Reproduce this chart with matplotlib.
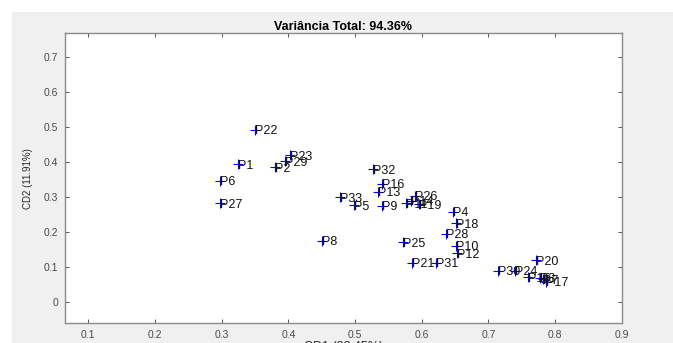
import matplotlib
matplotlib.use("Agg")
import matplotlib.pyplot as plt
from matplotlib.patches import Rectangle

# --- data ---
labels = ["P1", "P2", "P3", "P4", "P5", "P6", "P7", "P8", "P9", "P10",
          "P11", "P12", "P13", "P14", "P15", "P16", "P17", "P18", "P19", "P20",
          "P21", "P22", "P23", "P24", "P25", "P26", "P27", "P28", "P29", "P30",
          "P31", "P32", "P33"]
cd1 = [0.324, 0.380, 0.778, 0.647, 0.498, 0.297, 0.782, 0.451, 0.540, 0.651,
       0.577, 0.653, 0.534, 0.584, 0.759, 0.540, 0.787, 0.652, 0.596, 0.771,
       0.585, 0.350, 0.402, 0.740, 0.572, 0.590, 0.298, 0.637, 0.395, 0.714,
       0.621, 0.527, 0.477]
cd2 = [0.394, 0.385, 0.069, 0.258, 0.277, 0.347, 0.064, 0.175, 0.275, 0.160,
       0.282, 0.139, 0.315, 0.289, 0.070, 0.338, 0.057, 0.225, 0.279, 0.119,
       0.112, 0.492, 0.420, 0.089, 0.170, 0.303, 0.282, 0.194, 0.403, 0.089,
       0.112, 0.379, 0.299]

title = "Variância Total: 94.36%"
xlab = "CD1 (82.45%)"
ylab = "CD2 (11.91%)"

plt.rcParams["font.family"] = ["Liberation Sans", "DejaVu Sans"]

fig = plt.figure(figsize=(6.73, 3.43), dpi=100)
fig.patch.set_facecolor("white")
# grey figure panel (like the MATLAB window background), kept behind the axes
bg = Rectangle((12 / 673, 0), 1, 1 - 12 / 343, transform=fig.transFigure,
               color="#f0f0f0", zorder=-10)
fig.add_artist(bg)

ax = fig.add_axes([65 / 673, 1 - 323.3 / 343, (621.7 - 65) / 673, (323.3 - 33) / 343])
ax.set_zorder(1)
ax.set_facecolor("white")

ax.plot(cd1, cd2, "b+", markersize=7, markeredgewidth=0.8, linestyle="none")
for lab, x, y in zip(labels, cd1, cd2):
    ax.text(x, y, lab, fontsize=9, color="#111111", ha="left", va="center_baseline")

ax.set_xlim(0.065, 0.9)
ax.set_ylim(-0.062, 0.77)
ax.set_xticks([0.1, 0.2, 0.3, 0.4, 0.5, 0.6, 0.7, 0.8, 0.9])
ax.set_xticklabels(["0.1", "0.2", "0.3", "0.4", "0.5", "0.6", "0.7", "0.8", "0.9"])
ax.set_yticks([0, 0.1, 0.2, 0.3, 0.4, 0.5, 0.6, 0.7])
ax.set_yticklabels(["0", "0.1", "0.2", "0.3", "0.4", "0.5", "0.6", "0.7"])

ax.tick_params(direction="in", length=3, width=0.7, colors="#555555",
               labelsize=7.5, labelcolor="#4a4a4a", top=True, right=True)
ax.tick_params(axis="x", pad=4.5)
ax.tick_params(axis="y", pad=5)
for s in ax.spines.values():
    s.set_color("#8a8a8a")
    s.set_linewidth(1.0)

ax.set_title(title, fontsize=9, fontweight="bold", pad=2)
ax.set_xlabel(xlab, fontsize=9, color="#262626", labelpad=1)
ax.set_ylabel(ylab, fontsize=7, color="#262626")
ax.yaxis.set_label_coords(-0.058, 0.5)

fig.savefig("out.png", dpi=100)
